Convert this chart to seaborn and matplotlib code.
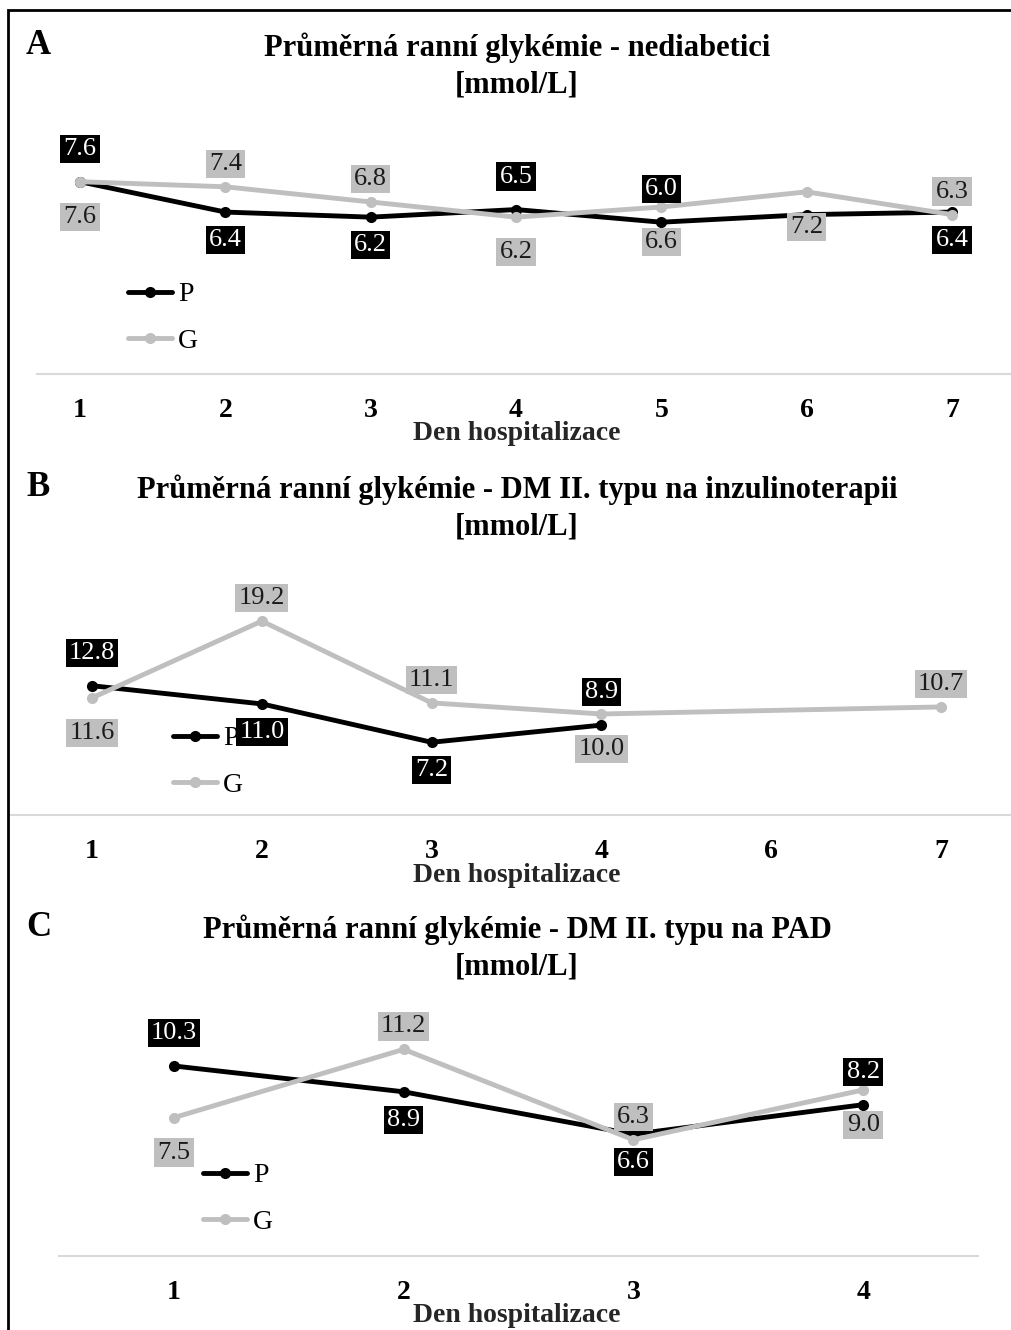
import numpy as np
import pandas as pd
import seaborn as sns
import matplotlib.pyplot as plt
from matplotlib.patches import Rectangle

W, H = 1011, 1330

# --- data -------------------------------------------------------------
titles = [
    "Průměrná ranní glykémie - nediabetici",
    "Průměrná ranní glykémie - DM II. typu na inzulinoterapii",
    "Průměrná ranní glykémie - DM II. typu na PAD",
]
letters = ["A", "B", "C"]

days_a = ["1", "2", "3", "4", "5", "6", "7"]
p_a = [7.6, 6.4, 6.2, 6.5, 6.0, 6.3, 6.4]
g_a = [7.6, 7.4, 6.8, 6.2, 6.6, 7.2, 6.3]

days_b = ["1", "2", "3", "4", "6", "7"]
p_b = [12.8, 11.0, 7.2, 8.9, np.nan, np.nan]
g_b = [11.6, 19.2, 11.1, 10.0, np.nan, 10.7]

days_c = ["1", "2", "3", "4"]
p_c = [10.3, 8.9, 6.6, 8.2]
g_c = [7.5, 11.2, 6.3, 9.0]

# where each data label sits (u = above, d = below, None = hidden)
lab_p_a = ["u", "d", "d", "u", "u", None, "d"]
lab_g_a = ["d", "u", "u", "d", "d", "d", "u"]
lab_p_b = ["u", "d", "d", "u", None, None]
lab_g_b = ["d", "u", "u", "d", None, "u"]
lab_p_c = ["u", "d", "d", "u"]
lab_g_c = ["d", "u", "u", "d"]

# --- layout (pixels) --------------------------------------------------
panels = [
    dict(days=days_a, p=p_a, g=g_a, lp=lab_p_a, lg=lab_g_a,
         left=37, right=1011, zero=374, ppu=25.3, ymax=9,
         xlim=(-0.296, 6.406), ty=48, leg=(128, 282)),
    dict(days=days_b, p=p_b, g=g_b, lp=lab_p_b, lg=lab_g_b,
         left=10, right=1011, zero=815, ppu=10.1, ymax=25,
         xlim=(-0.483, 5.412), ty=490, leg=(173, 726)),
    dict(days=days_c, p=p_c, g=g_c, lp=lab_p_c, lg=lab_g_c,
         left=59, right=978, zero=1256, ppu=18.45, ymax=12,
         xlim=(-0.5, 3.5), ty=930, leg=(203, 1163)),
]

sns.set_theme(style="white")
plt.rcParams["font.family"] = ["Liberation Serif", "DejaVu Serif"]
plt.rcParams["text.color"] = "black"
plt.rcParams["xtick.color"] = "black"

fig = plt.figure(figsize=(W / 100, H / 100), dpi=100)
palette = {"P": "black", "G": "#bfbfbf"}
off = {("P", "u"): 33, ("P", "d"): 28, ("G", "u"): 23, ("G", "d"): 35}

for i, pn in enumerate(panels):
    h_px = pn["ymax"] * pn["ppu"]
    ax = fig.add_axes([pn["left"] / W, 1 - pn["zero"] / H,
                       (pn["right"] - pn["left"]) / W, h_px / H])
    pos = list(range(len(pn["days"])))
    df = pd.concat([
        pd.DataFrame({"x": pos, "value": pn["p"], "series": "P"}),
        pd.DataFrame({"x": pos, "value": pn["g"], "series": "G"}),
    ]).dropna()
    sns.lineplot(data=df, x="x", y="value", hue="series", hue_order=["P", "G"],
                 palette=palette, marker="o", markersize=8, markeredgewidth=0,
                 linewidth=3.5, ax=ax, clip_on=False)

    # data labels
    for name, vals, where in [("P", pn["p"], pn["lp"]), ("G", pn["g"], pn["lg"])]:
        for x, v, w in zip(pos, vals, where):
            if w is None or np.isnan(v):
                continue
            dy = off[(name, w)] * 0.72 * (1 if w == "u" else -1)
            fc, tc = ("black", "white") if name == "P" else ("#bfbfbf", "#1a1a1a")
            ax.annotate(f"{v:.1f}", (x, v), xytext=(0, dy), textcoords="offset points",
                        ha="center", va="center", fontsize=19, color=tc, zorder=5,
                        bbox=dict(boxstyle="square,pad=0.12", fc=fc, ec="none"))

    ax.set_xlim(*pn["xlim"])
    ax.set_ylim(0, pn["ymax"])
    ax.set_xticks(pos)
    ax.set_xticklabels(pn["days"], fontsize=20, fontweight="bold")
    ax.set_yticks([])
    ax.tick_params(axis="x", length=0, pad=17)
    ax.set_ylabel("")
    for s in ["top", "left", "right"]:
        ax.spines[s].set_visible(False)
    ax.spines["bottom"].set_color("#d9d9d9")
    ax.spines["bottom"].set_linewidth(1.5)
    ax.patch.set_alpha(0)

    ax.set_xlabel("Den hospitalizace", fontsize=20, fontweight="bold")
    ax.xaxis.label.set_va("center")
    ax.xaxis.set_label_coords((517 - pn["left"]) / (pn["right"] - pn["left"]),
                              -(60 / h_px))

    handles, labels = ax.get_legend_handles_labels()
    ax.get_legend().remove()
    fig.legend(handles, labels, loc="upper left",
               bbox_to_anchor=(pn["leg"][0] / W, 1 - pn["leg"][1] / H),
               frameon=False, fontsize=20, handlelength=1.6, handletextpad=0.2,
               labelspacing=0.75, borderpad=0, borderaxespad=0)

    fig.text(517 / W, 1 - pn["ty"] / H, titles[i], ha="center", va="center",
             fontsize=22, fontweight="bold")
    fig.text(517 / W, 1 - (pn["ty"] + 37) / H, "[mmol/L]", ha="center", va="center",
             fontsize=22, fontweight="bold")
    fig.text(26 / W, 1 - (pn["ty"] - 2) / H, letters[i], ha="left", va="center",
             fontsize=25, fontweight="bold")

# frame around the figure (top and left edges visible)
fig.add_artist(Rectangle((8 / W, -0.01), 1.1, 1 - 10 / H + 0.01, transform=fig.transFigure,
                         fill=False, ec="black", lw=2))

plt.savefig("out.png", dpi=100)
